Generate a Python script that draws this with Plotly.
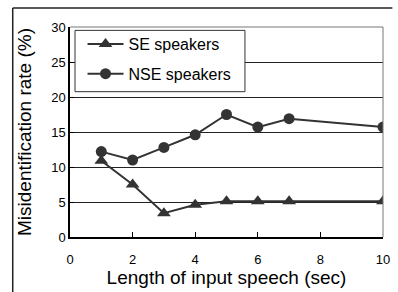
import plotly.graph_objects as go

lengths = [1, 2, 3, 4, 5, 6, 7, 10]
se_rate = [10.9, 7.5, 3.4, 4.6, 5.1, 5.1, 5.1, 5.1]
nse_rate = [12.2, 11.0, 12.8, 14.6, 17.5, 15.7, 16.9, 15.7]
x_ticks = [0, 2, 4, 6, 8, 10]
y_ticks = [0, 5, 10, 15, 20, 25, 30]

FONT = "Liberation Sans, Arial, sans-serif"
INK = "#333333"

fig = go.Figure()
fig.add_trace(go.Scatter(
    x=lengths, y=se_rate, name="SE speakers", mode="lines+markers",
    line=dict(color=INK, width=2),
    marker=dict(symbol="triangle-up", size=12, color=INK),
    legendgroup="se",
))
fig.add_trace(go.Scatter(
    x=lengths, y=nse_rate, name="NSE speakers", mode="lines+markers",
    line=dict(color=INK, width=2),
    marker=dict(symbol="circle", size=11, color=INK),
    legendgroup="nse",
))

frame = dict(color="#222222", width=1.5)

fig.update_layout(
    width=398, height=292,
    margin=dict(l=70, r=8, t=27, b=55),
    paper_bgcolor="white", plot_bgcolor="white",
    font=dict(family=FONT, color="black", size=13),
    showlegend=True,
    legend=dict(
        x=0.04, y=1.0, xanchor="left", yanchor="top",
        bgcolor="rgba(0,0,0,0)", borderwidth=0,
        font=dict(size=16, family=FONT),
        tracegroupgap=6, itemwidth=36,
    ),
    xaxis=dict(
        range=[0, 10], tickvals=x_ticks, ticks="inside", ticklen=5,
        tickcolor="black", showline=True, linecolor="black", linewidth=1.5,
        mirror=False, showgrid=False, zeroline=False,
        tickfont=dict(size=13), ticklabelstandoff=10,
        title=dict(text="Length of input speech (sec)", font=dict(size=19), standoff=3),
    ),
    yaxis=dict(
        range=[0, 30], tickvals=y_ticks, ticks="inside", ticklen=4,
        tickcolor="black", showline=True, linecolor="black", linewidth=1.5,
        showgrid=True, gridcolor="#222222", gridwidth=1, zeroline=False,
        tickfont=dict(size=13),
        title=dict(text="Misidentification rate (%)", font=dict(size=19), standoff=15),
    ),
    shapes=[
        # top and right frame of the plot area
        dict(type="line", xref="paper", yref="paper", x0=0, x1=1, y0=1, y1=1,
             line=dict(color="#777777", width=1)),
        dict(type="line", xref="paper", yref="paper", x0=1, x1=1, y0=0, y1=1,
             line=dict(color="#777777", width=1)),
        # legend box
        dict(type="rect", xref="paper", yref="paper",
             x0=0.016, x1=0.559, y0=0.692, y1=0.984,
             fillcolor="white", line=dict(color="#333333", width=1), layer="above"),
        # outer chart frame (left and top edges)
        dict(type="line", xref="paper", yref="paper",
             x0=-0.183, x1=-0.183, y0=-0.27, y1=1.09, line=frame),
        dict(type="line", xref="paper", yref="paper",
             x0=-0.183, x1=1.03, y0=1.09, y1=1.09, line=frame),
    ],
)

fig.write_html(
    "out.html",
    config={"displayModeBar": False},
    post_script="document.body.style.margin='0';document.body.style.overflow='hidden';",
)
